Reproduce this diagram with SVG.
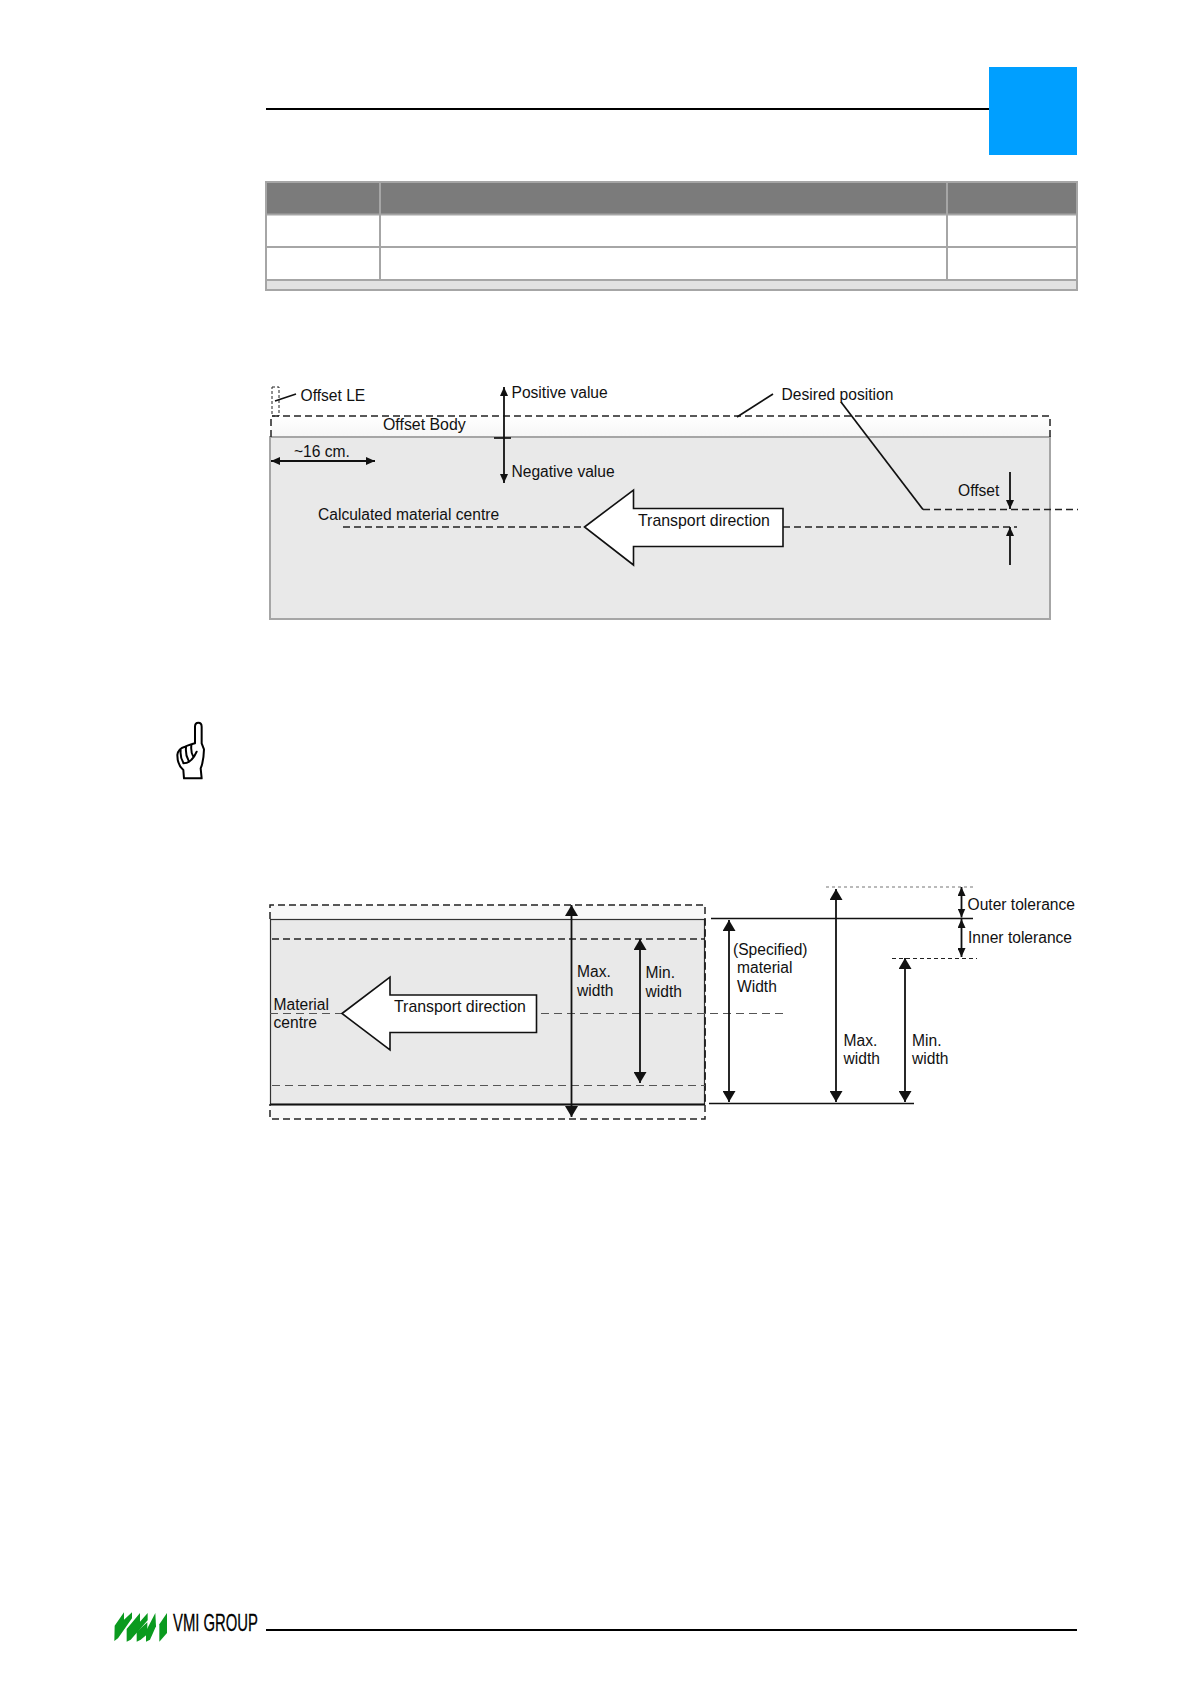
<svg xmlns="http://www.w3.org/2000/svg" width="1191" height="1684" viewBox="0 0 1191 1684">
<style>
text{font-family:"Liberation Sans",Arial,sans-serif;font-size:15.6px;fill:#111}
.big{font-size:15.900px}
.dash{fill:none;stroke:#222;stroke-width:1.5;stroke-dasharray:7 4}
.gdash{fill:none;stroke:#555;stroke-width:1.2;stroke-dasharray:8 5}
.ln{fill:none;stroke:#111;stroke-width:1.7}
.tb{fill:none;stroke:#a6a6a6;stroke-width:2}
.a2{fill:none;stroke:#111;stroke-width:1.8;marker-start:url(#h);marker-end:url(#h)}
.a1{fill:none;stroke:#111;stroke-width:1.8;marker-end:url(#h)}
.b2{fill:none;stroke:#111;stroke-width:1.8;marker-start:url(#H);marker-end:url(#H)}
.block{fill:#fff;stroke:#111;stroke-width:1.6}
</style>
<defs>
<marker id="h" markerUnits="userSpaceOnUse" markerWidth="10" markerHeight="8" refX="9" refY="4" orient="auto-start-reverse"><path d="M0 0L9 4L0 8Z" fill="#111"/></marker>
<marker id="H" markerUnits="userSpaceOnUse" markerWidth="12" markerHeight="13" refX="11" refY="6.500" orient="auto-start-reverse"><path d="M0 0L11 6.500L0 13Z" fill="#111"/></marker>
<linearGradient id="band" x1="0" y1="0" x2="0" y2="1"><stop offset="0" stop-color="#fff"/><stop offset="1" stop-color="#f6f6f6"/></linearGradient>
</defs>
<g id="header">
<line x1="266" y1="109" x2="989" y2="109" stroke="#000" stroke-width="2"/>
<rect x="989" y="67" width="88" height="88" fill="#009fff"/>
</g>
<g id="table">
<rect x="267" y="182" width="809" height="32" fill="#7b7b7b"/>
<rect x="267" y="280" width="809" height="10" fill="#e2e2e2"/>
<rect class="tb" x="266" y="182" width="811" height="108"/>
<path class="tb" d="M266 214.500H1077M266 247H1077M266 280H1077M380 182V280M947 182V280"/>
</g>
<g id="diagram-offset">
<rect x="271" y="416" width="779" height="21" fill="url(#band)"/>
<rect x="270" y="437" width="780" height="182" fill="#e9e9e9" stroke="#a6a6a6" stroke-width="2"/>
<g id="connectors-offset">
<path class="dash" d="M271 437V416H1050V437"/>
<rect x="272" y="387" width="7" height="29" fill="none" stroke="#222" stroke-width="1" stroke-dasharray="3 2"/>
<line class="ln" x1="275" y1="401" x2="296" y2="394"/>
<line class="a2" x1="504" y1="387" x2="504" y2="483"/>
<line class="ln" x1="494" y1="438" x2="511" y2="438"/>
<line class="a2" x1="271" y1="461" x2="375" y2="461"/>
<line class="dash" x1="343" y1="527" x2="584" y2="527"/>
<line class="dash" x1="783" y1="527" x2="1017" y2="527"/>
<line class="ln" x1="737" y1="417" x2="773" y2="394"/>
<line class="ln" x1="841" y1="402" x2="923" y2="509.500"/>
<line class="dash" x1="923" y1="509.500" x2="1078" y2="509.500"/>
<line class="a1" x1="1010" y1="472" x2="1010" y2="509"/>
<line class="a1" x1="1010" y1="565" x2="1010" y2="527"/>
</g>
<path id="arrow-transport-1" class="block" d="M584.500 527L633.500 490V508.500H783V546.500H633.500V565Z"/>
<text x="300.500" y="401">Offset LE</text>
<text x="511.500" y="398">Positive value</text>
<text x="781.500" y="400">Desired position</text>
<text class="big" x="383" y="429.500">Offset Body</text>
<text x="294" y="456.500">~16 cm.</text>
<text x="511.500" y="476.500">Negative value</text>
<text x="318" y="519.500">Calculated material centre</text>
<text class="big" x="638" y="526">Transport direction</text>
<text x="958" y="495.500">Offset</text>
</g>
<g id="hand" transform="translate(160 710) scale(.3333)" fill="none" stroke="#000" stroke-width="6" stroke-linejoin="round" stroke-linecap="round">
<path d="M105 100V50Q105 38 115 38Q125 38 125 50V100L132 118Q131 155 122 175L125 205H72L70 180Q52 165 52 135Q55 115 75 110Q95 102 105 100Z"/>
<path d="M62 122Q60 142 70 158M78 112Q76 135 85 150M94 106Q92 128 100 140M70 160Q95 160 110 125"/>
</g>
<g id="diagram-width">
<rect x="271" y="905" width="434" height="214" fill="#f8f8f8"/>
<rect x="270.500" y="919.500" width="434" height="185" fill="#e9e9e9" stroke="#333" stroke-width="1.200"/>
<line x1="270" y1="1104.500" x2="705" y2="1104.500" stroke="#111" stroke-width="2"/>
<g id="connectors-width">
<path class="dash" d="M270 919V905H705V1119H270V1104"/>
<line class="dash" x1="705" y1="919" x2="705" y2="1104"/>
<line class="dash" x1="272" y1="939" x2="705" y2="939"/>
<line class="gdash" x1="272" y1="1085.500" x2="705" y2="1085.500"/>
<line class="gdash" x1="270" y1="1013.500" x2="342" y2="1013.500"/>
<line class="gdash" x1="541" y1="1013.500" x2="788" y2="1013.500"/>
<line class="ln" x1="711" y1="918.500" x2="973" y2="918.500"/>
<line class="ln" x1="709" y1="1103.500" x2="914" y2="1103.500"/>
<line x1="826" y1="887" x2="973" y2="887" stroke="#777" stroke-width="1.200" stroke-dasharray="3 3"/>
<line x1="892" y1="958.500" x2="977" y2="958.500" stroke="#222" stroke-width="1.200" stroke-dasharray="4 3"/>
<line class="b2" x1="571.500" y1="905" x2="571.500" y2="1117"/>
<line class="b2" x1="640" y1="939" x2="640" y2="1083"/>
<line class="b2" x1="729" y1="920" x2="729" y2="1102"/>
<line class="b2" x1="836" y1="889" x2="836" y2="1102"/>
<line class="b2" x1="905" y1="958" x2="905" y2="1102"/>
<line class="a2" x1="961.500" y1="887" x2="961.500" y2="917.500"/>
<line class="a2" x1="961.500" y1="919" x2="961.500" y2="957"/>
</g>
<path id="arrow-transport-2" class="block" d="M342 1013.500L390 977V995H536.500V1032.500H390V1050Z"/>
<text x="273.500" y="1010">Material</text>
<text x="273.500" y="1028">centre</text>
<text class="big" x="394" y="1012">Transport direction</text>
<text x="577" y="977">Max.</text>
<text x="577" y="995.500">width</text>
<text x="645.500" y="978">Min.</text>
<text x="645.500" y="997">width</text>
<text x="733" y="955">(Specified)</text>
<text x="737" y="973">material</text>
<text x="737" y="991.500">Width</text>
<text x="843.500" y="1045.500">Max.</text>
<text x="843.500" y="1063.500">width</text>
<text x="912" y="1045.500">Min.</text>
<text x="912" y="1063.500">width</text>
<text x="967.500" y="910">Outer tolerance</text>
<text x="968" y="943">Inner tolerance</text>
</g>
<g id="footer">
<g transform="translate(110 1605) scale(.3333)" fill="#0a9a1e">
<path d="M13 108L14 62L42 22V44L66 22V40L24 100Z"/>
<path d="M50 110V72L90 24V50L113 24V46L62 104Z"/>
<path d="M80 110V80L112 52V88L92 104Z"/>
<path d="M108 110V78L136 24L138 64L120 104Z"/>
<path d="M148 110V58L171 24V84Z"/>
</g>
<text x="173" y="1630.500" style="font-size:24px;fill:#000;stroke:#000;stroke-width:.3" textLength="85" lengthAdjust="spacingAndGlyphs">VMI GROUP</text>
<line x1="266" y1="1630" x2="1077" y2="1630" stroke="#000" stroke-width="2"/>
</g>
</svg>
